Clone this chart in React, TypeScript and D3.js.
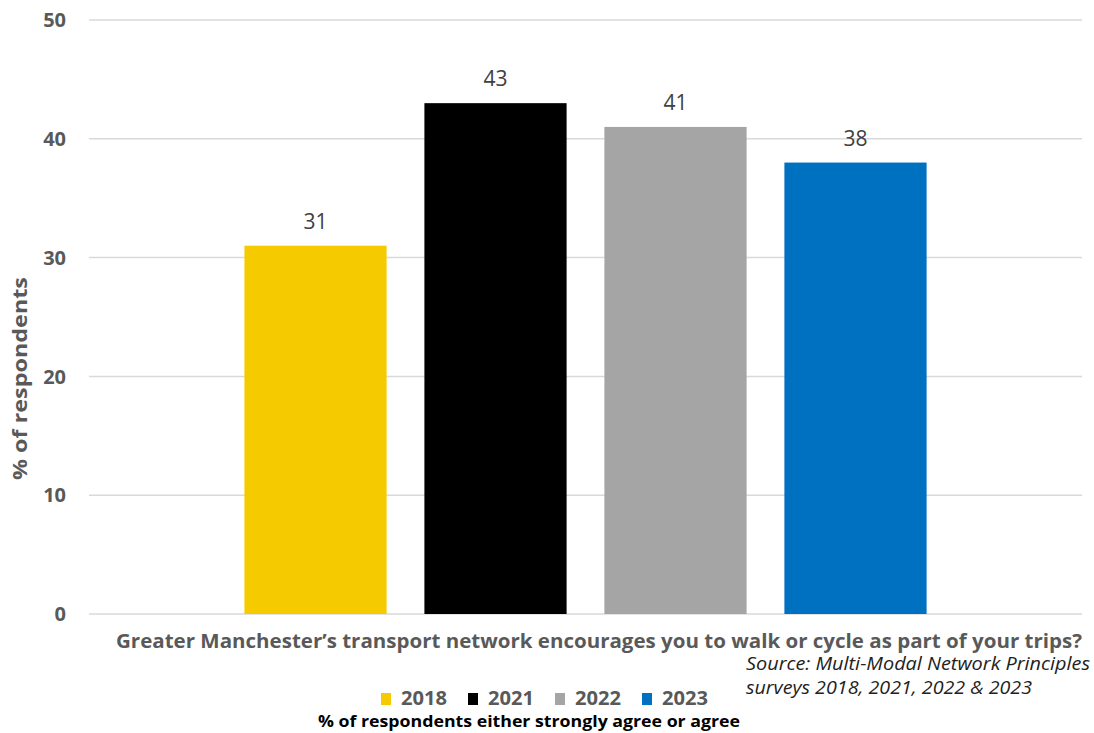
import React, { useEffect } from "react";
import * as d3 from "d3";

const categories = ["Greater Manchester’s transport network encourages you to walk or cycle as part of your trips?"];
const years = ["2018", "2021", "2022", "2023"];
const values = [31, 43, 41, 38];
const colors = ["#F5CB00", "#000000", "#A5A5A5", "#0070C0"];
const yTicks = [0, 10, 20, 30, 40, 50];
const yTitle = "% of respondents";
const legendSubtitle = "% of respondents either strongly agree or agree";
const sourceLines = ["Source: Multi-Modal Network Principles", "surveys 2018, 2021, 2022 & 2023"];

const W = 1094;
const H = 733;
const FONT = "'Open Sans', sans-serif";

export default function App() {
  useEffect(() => {
    document.body.style.margin = "0";
  }, []);

  const left = 89, right = 1082, top = 20, bottom = 614;
  const y = d3.scaleLinear().domain([0, 50]).range([bottom, top]);
  const x0 = d3.scaleBand().domain(categories).range([left, right]).paddingOuter(0.1896).paddingInner(0);
  const x1 = d3.scaleBand().domain(years).range([0, x0.bandwidth()]).paddingInner(0.21).paddingOuter(0.105);
  const cx = x0(categories[0])!;

  const legendX = d3.scaleBand().domain(years).range([381, 729]);

  return (
    <svg width={W} height={H} style={{ display: "block", background: "#fff" }} fontFamily={FONT}>
      {yTicks.map((t) => (
        <g key={t}>
          <line x1={left} x2={right} y1={y(t)} y2={y(t)} stroke="#D9D9D9" strokeWidth={1.5} />
          <text x={66} y={y(t)} dy="0.36em" textAnchor="end" fontSize={20} fontWeight={700} fill="#595959">
            {t}
          </text>
        </g>
      ))}
      <text
        transform={`translate(27,${(277 + 480) / 2}) rotate(-90)`}
        textAnchor="middle"
        fontSize={20}
        fontWeight={700}
        fill="#595959"
        textLength={203}
        lengthAdjust="spacingAndGlyphs"
      >
        {yTitle}
      </text>
      {years.map((yr, i) => {
        const bx = cx + x1(yr)!;
        return (
          <g key={yr}>
            <rect x={bx} y={y(values[i])} width={x1.bandwidth()} height={y(0) - y(values[i])} fill={colors[i]} />
            <text x={bx + x1.bandwidth() / 2} y={y(values[i]) - 17} textAnchor="middle" fontSize={21} fill="#404040">
              {values[i]}
            </text>
          </g>
        );
      })}
      <text
        x={(116 + 1082) / 2}
        y={648}
        textAnchor="middle"
        fontSize={20}
        fontWeight={700}
        fill="#595959"
        textLength={966}
        lengthAdjust="spacingAndGlyphs"
      >
        {categories[0]}
      </text>
      {years.map((yr, i) => {
        const lx = legendX(yr)!;
        return (
          <g key={"lg" + yr}>
            <rect x={lx} y={693} width={10} height={12} fill={colors[i]} />
            <text x={lx + 20} y={705} fontSize={19} fontWeight={700} fill="#595959" textLength={46} lengthAdjust="spacingAndGlyphs">
              {yr}
            </text>
          </g>
        );
      })}
      <text
        x={318}
        y={727}
        fontSize={16}
        fontWeight={700}
        fill="#000"
        textLength={422}
        lengthAdjust="spacingAndGlyphs"
      >
        {legendSubtitle}
      </text>
      {sourceLines.map((s, i) => (
        <text
          key={s}
          x={746}
          y={670 + i * 24}
          fontSize={18}
          fontStyle="italic"
          fill="#222"
          textLength={i === 0 ? 344 : 286}
          lengthAdjust="spacingAndGlyphs"
        >
          {s}
        </text>
      ))}
    </svg>
  );
}
